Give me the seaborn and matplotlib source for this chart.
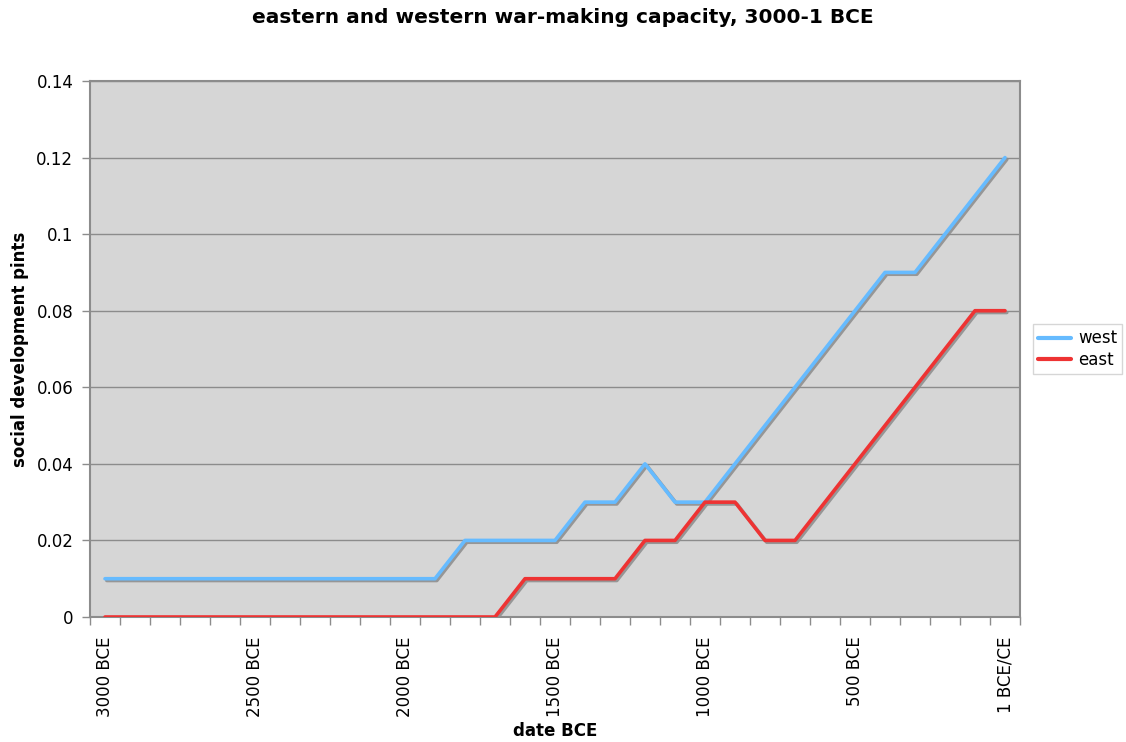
import matplotlib
matplotlib.use("Agg")
import matplotlib.pyplot as plt
import matplotlib.patheffects as pe
import seaborn as sns
import pandas as pd
import numpy as np

# 3000 BCE .. 1 BCE/CE in century steps
dates = [f"{y} BCE" for y in range(3000, 0, -100)] + ["1 BCE/CE"]
west = [0.01, 0.01, 0.01, 0.01, 0.01, 0.01, 0.01, 0.01, 0.01, 0.01, 0.01, 0.01,
        0.02, 0.02, 0.02, 0.02, 0.03, 0.03, 0.04, 0.03, 0.03,
        0.04, 0.05, 0.06, 0.07, 0.08, 0.09, 0.09, 0.10, 0.11, 0.12]
east = [0, 0, 0, 0, 0, 0, 0, 0, 0, 0, 0, 0, 0, 0,
        0.01, 0.01, 0.01, 0.01, 0.02, 0.02, 0.03, 0.03, 0.02, 0.02,
        0.03, 0.04, 0.05, 0.06, 0.07, 0.08, 0.08]
label_dates = ["3000 BCE", "2500 BCE", "2000 BCE", "1500 BCE", "1000 BCE", "500 BCE", "1 BCE/CE"]

df = pd.DataFrame({"idx": list(range(len(dates))) * 2,
                   "value": west + east,
                   "series": ["west"] * len(dates) + ["east"] * len(dates)})

sns.set_style("white")
plt.rcParams["font.family"] = ["DejaVu Sans"]
plt.rcParams["text.color"] = "black"
plt.rcParams["axes.labelcolor"] = "black"
plt.rcParams["xtick.color"] = "black"
plt.rcParams["ytick.color"] = "black"

fig = plt.figure(figsize=(11.26, 7.42), dpi=100)
ax = fig.add_axes([90 / 1126, 1 - 617 / 742, 930 / 1126, 536 / 742])
ax.set_facecolor("#d6d6d6")

sns.lineplot(data=df, x="idx", y="value", hue="series",
             palette={"west": "#66bbff", "east": "#ee3333"},
             linewidth=2.6, ax=ax, zorder=3,
             path_effects=[pe.SimpleLineShadow(offset=(1.3, -1.3), shadow_color="#8f8f8f", alpha=0.9), pe.Normal()])

ax.set_xlim(-0.5, len(dates) - 0.5)
ax.set_ylim(0, 0.14)
yt = np.arange(0, 0.141, 0.02)
ax.set_yticks(yt)
ax.set_yticklabels(["0", "0.02", "0.04", "0.06", "0.08", "0.1", "0.12", "0.14"], fontsize=12)
ax.yaxis.grid(True, color="#8c8c8c", linewidth=1)
ax.set_axisbelow(True)

pos = [dates.index(d) for d in label_dates]
ax.set_xticks(pos)
ax.set_xticklabels(label_dates, rotation=90, fontsize=12)
ax.tick_params(axis="x", which="major", length=0, pad=14)
ax.set_xticks(np.arange(-0.5, len(dates), 1), minor=True)
ax.tick_params(axis="x", which="minor", bottom=True, length=6, width=1,
               color="#8c8c8c", direction="out")
ax.tick_params(axis="y", left=True, length=6, width=1, color="#8c8c8c", direction="out", pad=6)

for s in ax.spines.values():
    s.set_color("#8c8c8c")
    s.set_linewidth(1.5)

ax.set_xlabel("date BCE", fontsize=12, fontweight="bold", labelpad=4)
ax.set_ylabel("social development pints", fontsize=12, fontweight="bold", labelpad=5)
fig.suptitle("eastern and western war-making capacity, 3000-1 BCE", fontsize=14.5,
             fontweight="bold", y=1 - 8 / 742, va="top")

h, l = ax.get_legend_handles_labels()
leg = ax.legend(h, l, loc="center left", bbox_to_anchor=(1.014, 0.5), fontsize=12,
                frameon=True, fancybox=False, edgecolor="#cccccc", handlelength=2.0,
                handletextpad=0.4, borderpad=0.3, borderaxespad=0, labelspacing=0.2)
leg.get_frame().set_linewidth(1)
for line in leg.get_lines():
    line.set_path_effects([])
    line.set_linewidth(3)

fig.savefig("out.png", dpi=100)
